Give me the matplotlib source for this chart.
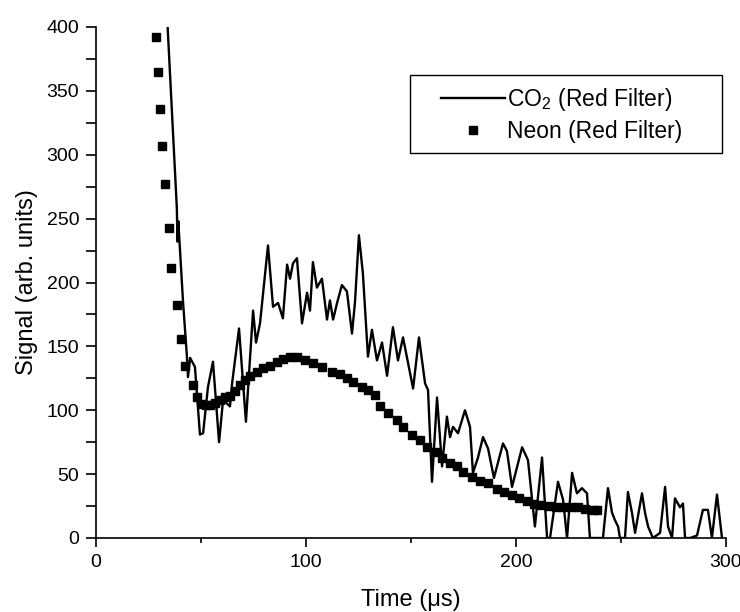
import matplotlib
matplotlib.use('Agg')
import matplotlib.pyplot as plt
from matplotlib.ticker import MultipleLocator
from matplotlib.patches import Rectangle

plt.rcParams['font.family'] = ['Liberation Sans', 'DejaVu Sans']
plt.rcParams['mathtext.fontset'] = 'custom'
plt.rcParams['mathtext.rm'] = 'Liberation Sans'
plt.rcParams['mathtext.default'] = 'regular'

# CO2 (Red Filter) signal
co2_time = [33.8, 38.5, 38.8, 39.2, 41.4, 43.3, 43.8, 44.8, 47.1, 49.5,
            51.0, 53.3, 55.7, 58.6, 60.5, 63.8, 64.8, 68.1, 71.4, 74.8,
            76.2, 78.1, 81.9, 84.3, 86.7, 89.0, 91.0, 92.4, 93.8, 95.7,
            98.1, 100.5, 101.9, 103.3, 105.2, 107.6, 110.0, 111.4, 112.9, 114.8,
            117.1, 119.5, 121.9, 123.3, 125.2, 127.1, 129.5, 131.4, 133.8, 136.2,
            138.6, 141.4, 143.8, 146.2, 148.6, 151.0, 153.8, 156.7, 158.1, 160.0,
            162.4, 164.8, 167.1, 168.6, 170.0, 172.4, 175.7, 178.1, 179.5, 181.9,
            184.3, 186.7, 189.5, 193.8, 195.7, 198.1, 202.9, 205.7, 209.0, 212.4,
            214.8, 216.2, 220.0, 222.4, 224.3, 226.7, 229.0, 231.4, 233.8, 235.2,
            240.0, 241.4, 243.8, 245.7, 247.1, 248.6, 249.5, 251.9, 253.3, 255.2,
            256.7, 260.0, 261.4, 262.9, 265.2, 268.6, 271.0, 272.4, 274.3, 275.7,
            278.1, 279.5, 280.5, 282.9, 286.2, 289.0, 291.4, 293.3, 295.7, 298.1]
co2_signal = [410, 258, 232, 248, 186, 142, 126, 141, 134, 81,
              82, 118, 138, 75, 108, 103, 121, 164, 91, 178,
              153, 168, 229, 181, 184, 172, 214, 203, 215, 219,
              168, 192, 178, 216, 196, 203, 171, 186, 171, 184,
              198, 193, 160, 184, 237, 207, 142, 163, 139, 153,
              127, 165, 139, 157, 137, 117, 157, 121, 116, 44,
              110, 56, 95, 79, 87, 82, 100, 87, 51, 63,
              79, 70, 47, 74, 68, 40, 71, 61, 9, 63,
              0, 0, 44, 30, 0, 51, 35, 39, 35, 0,
              0, 0, 39, 20, 14, 9, 0, 0, 36, 20,
              4, 35, 20, 9, 0, 4, 40, 9, 0, 31,
              24, 27, 0, 0, 2, 22, 22, 0, 34, 0]

# Neon (Red Filter) signal
neon_time = [28.6, 29.5, 30.5, 31.4, 32.9, 34.8, 35.7, 38.6, 40.5, 42.4,
             46.2, 48.1, 50.5, 52.4, 54.3, 56.7, 59.0, 61.4, 63.8, 66.2,
             68.6, 71.0, 73.3, 76.7, 79.5, 82.9, 86.2, 89.0, 92.4, 95.7,
             99.5, 103.3, 107.6, 112.4, 116.2, 119.5, 122.4, 126.7, 129.5, 132.9,
             135.2, 139.0, 143.3, 146.2, 150.5, 154.3, 157.6, 161.4, 164.8, 168.6,
             171.9, 174.8, 179.0, 182.9, 186.7, 191.0, 194.5, 198.0, 201.5, 205.0,
             208.5, 212.0, 215.5, 219.0, 222.5, 226.0, 229.5, 233.0, 236.5, 238.6]
neon_signal = [392, 365, 336, 307, 277, 243, 211, 182, 156, 135,
               120, 110, 105, 104, 104, 106, 108, 110, 111, 115,
               120, 124, 127, 130, 133, 135, 138, 140, 142, 142,
               139, 137, 134, 130, 128, 125, 122, 118, 116, 112,
               103, 98, 92, 87, 81, 77, 71, 67, 63, 59,
               56, 52, 48, 45, 43, 38, 36, 34, 31, 29,
               27, 26, 25, 24, 24, 24, 24, 23, 22, 22]

W, H = 740, 612
fig = plt.figure(figsize=(W / 100, H / 100), dpi=100)
ax = fig.add_axes([96 / W, 1 - 538 / H, 630 / W, 511 / H])

ax.plot(co2_time, co2_signal, color='black', lw=1.7, label=r'CO$_2$ (Red Filter)')
ax.plot(neon_time, neon_signal, ls='none', marker='s', ms=5.8, color='black',
        label='Neon (Red Filter)')

ax.set_xlim(0, 300)
ax.set_ylim(0, 400)
ax.xaxis.set_major_locator(MultipleLocator(100))
ax.xaxis.set_minor_locator(MultipleLocator(50))
ax.yaxis.set_major_locator(MultipleLocator(50))
ax.yaxis.set_minor_locator(MultipleLocator(25))

for s in ['top', 'right']:
    ax.spines[s].set_visible(False)
for s in ['left', 'bottom']:
    ax.spines[s].set_linewidth(1.2)

ax.tick_params(axis='both', which='both', direction='out', width=1.2, labelsize=14)
ax.tick_params(axis='x', which='major', length=6.5, pad=5)
ax.tick_params(axis='x', which='minor', length=3.5)
ax.tick_params(axis='y', which='both', length=7, pad=5)

ax.set_xlabel('Time (μs)', fontsize=17, labelpad=13)
ax.set_ylabel('Signal (arb. units)', fontsize=17, labelpad=6)

# legend without its own frame, box drawn separately to match the wide padding
leg = ax.legend(loc='upper left', bbox_to_anchor=(441 / W, 1 - 86 / H),
                bbox_transform=fig.transFigure, fontsize=16.5, frameon=False,
                handlelength=2.8, handletextpad=0.1, borderpad=0,
                labelspacing=0.3, borderaxespad=0)
fig.patches.append(Rectangle((410 / W, 1 - 153 / H), 312 / W, 78 / H,
                             transform=fig.transFigure, fill=False,
                             edgecolor='black', lw=1.0))

fig.savefig('out.png', dpi=100)
